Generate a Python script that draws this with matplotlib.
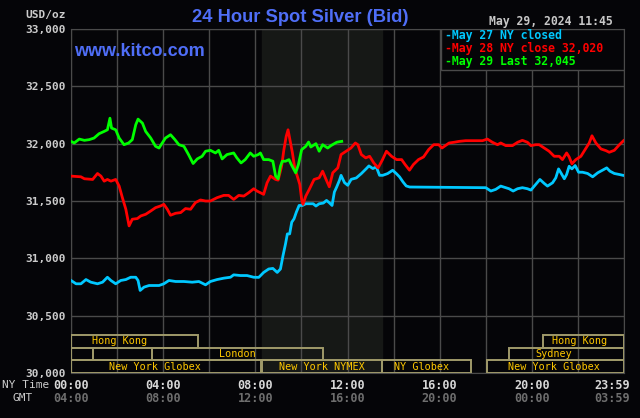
import matplotlib
matplotlib.use("Agg")
import matplotlib.pyplot as plt
from matplotlib.patches import Rectangle
from matplotlib.transforms import blended_transform_factory

# --- data (hours NY time, USD/oz) ---
may29_hours = [0, 0.14, 0.36, 0.58, 0.79, 1.0, 1.22, 1.44, 1.58, 1.69, 1.76, 1.94, 2.09, 2.3,
               2.5, 2.66, 2.81, 2.91, 3.1, 3.24, 3.46, 3.67, 3.82, 3.96, 4.1, 4.32, 4.51, 4.68,
               4.9, 5.1, 5.3, 5.48, 5.69, 5.84, 6.05, 6.27, 6.41, 6.56, 6.77, 7.06, 7.2, 7.38,
               7.56, 7.78, 7.93, 8.13, 8.22, 8.36, 8.58, 8.76, 8.88, 8.99, 9.09, 9.17, 9.31,
               9.46, 9.56, 9.75, 9.87, 10.01, 10.19, 10.31, 10.41, 10.63, 10.77, 10.92, 11.14,
               11.28, 11.53, 11.65, 11.75]
may29_price = [32020, 32006, 32040, 32029, 32035, 32049, 32087, 32107, 32121, 32222, 32136,
               32121, 32049, 31991, 32006, 32035, 32165, 32214, 32179, 32107, 32049, 31977,
               31962, 32006, 32049, 32078, 32035, 31991, 31977, 31905, 31827, 31867, 31890,
               31934, 31942, 31919, 31942, 31867, 31905, 31919, 31876, 31832, 31861, 31919,
               31890, 31905, 31919, 31861, 31861, 31847, 31717, 31694, 31803, 31847, 31847,
               31861, 31818, 31746, 31818, 31948, 31977, 32014, 31971, 32000, 31934, 31991,
               31962, 31983, 32012, 32017, 32020]

may28_hours = [0, 0.43, 0.58, 0.94, 1.15, 1.3, 1.44, 1.58, 1.73, 1.94, 2.09, 2.23, 2.38, 2.52,
               2.66, 2.88, 3.03, 3.24, 3.46, 3.67, 3.89, 4.03, 4.18, 4.32, 4.54, 4.76, 4.97,
               5.19, 5.4, 5.62, 5.84, 6.05, 6.34, 6.63, 6.84, 7.06, 7.28, 7.5, 7.71, 7.93,
               8.07, 8.36, 8.51, 8.66, 8.88, 8.99, 9.14, 9.24, 9.34, 9.42, 9.5, 9.61, 9.72,
               9.82, 9.93, 10.01, 10.07, 10.19, 10.34, 10.55, 10.77, 10.92, 11.07, 11.21,
               11.36, 11.58, 11.72, 11.94, 12.15, 12.34, 12.45, 12.6, 12.79, 12.96, 13.14,
               13.33, 13.52, 13.69, 13.91, 14.13, 14.35, 14.5, 14.69, 14.86, 15.08, 15.3,
               15.52, 15.74, 15.96, 16.1, 16.41, 16.62, 16.84, 17.13, 17.42, 17.86, 18.07,
               18.29, 18.51, 18.65, 18.87, 19.16, 19.38, 19.59, 19.81, 19.96, 20.17, 20.32,
               20.54, 20.75, 20.97, 21.19, 21.33, 21.51, 21.62, 21.74, 21.91, 22.13, 22.35,
               22.49, 22.61, 22.78, 23.0, 23.22, 23.36, 23.58, 23.8, 23.98]
may28_price = [31717, 31711, 31694, 31688, 31740, 31717, 31673, 31688, 31673, 31688, 31630,
               31529, 31428, 31283, 31341, 31347, 31370, 31384, 31413, 31442, 31457, 31471,
               31428, 31376, 31393, 31399, 31434, 31428, 31486, 31509, 31500, 31500, 31529,
               31549, 31549, 31514, 31549, 31543, 31572, 31607, 31587, 31558, 31659, 31717,
               31688, 31682, 31803, 31948, 32064, 32121, 32035, 31919, 31775, 31717, 31644,
               31514, 31471, 31543, 31601, 31688, 31702, 31760, 31688, 31624, 31746, 31789,
               31905, 31934, 31962, 32006, 31991, 31905, 31876, 31890, 31832, 31789, 31861,
               31934, 31890, 31861, 31861, 31818, 31769, 31818, 31861, 31884, 31948, 31991,
               31991, 31962, 32006, 32012, 32020, 32026, 32026, 32026, 32040, 32012, 31991,
               32006, 31983, 31983, 32012, 32029, 32012, 31983, 31991, 31991, 31962, 31934,
               31890, 31890, 31861, 31919, 31884, 31824, 31861, 31890, 31962, 32006, 32069,
               32006, 31954, 31939, 31925, 31942, 31991, 32026]

may27_hours = [0, 0.22, 0.43, 0.65, 0.86, 1.15, 1.37, 1.58, 1.73, 1.94, 2.16, 2.38, 2.59,
               2.81, 2.91, 3.0, 3.17, 3.39, 3.6, 3.82, 4.03, 4.25, 4.54, 4.9, 5.26, 5.55,
               5.84, 6.05, 6.34, 6.63, 6.92, 7.06, 7.35, 7.64, 7.93, 8.15, 8.36, 8.58, 8.76,
               8.95, 9.09, 9.2, 9.31, 9.39, 9.49, 9.58, 9.68, 9.78, 9.9, 10.04, 10.19, 10.34,
               10.51, 10.63, 10.77, 10.95, 11.09, 11.21, 11.33, 11.43, 11.53, 11.65, 11.72,
               11.87, 12.01, 12.16, 12.38, 12.6, 12.82, 12.93, 13.1, 13.25, 13.39, 13.53,
               13.74, 13.96, 14.12, 14.26, 14.41, 14.55, 14.7, 18.0, 18.07, 18.22, 18.43,
               18.65, 18.87, 19.01, 19.19, 19.38, 19.59, 19.81, 19.96, 20.17, 20.35, 20.54,
               20.68, 20.9, 21.04, 21.16, 21.26, 21.41, 21.51, 21.62, 21.74, 21.88, 22.03,
               22.2, 22.42, 22.64, 22.86, 23.07, 23.25, 23.39, 23.58, 23.8, 23.98]
may27_price = [30807, 30778, 30778, 30815, 30792, 30778, 30792, 30835, 30807, 30778, 30807,
               30815, 30835, 30835, 30807, 30720, 30749, 30763, 30763, 30763, 30778, 30807,
               30798, 30798, 30792, 30798, 30769, 30798, 30815, 30827, 30835, 30856, 30850,
               30850, 30835, 30834, 30877, 30907, 30912, 30877, 30907, 31023, 31126, 31213,
               31213, 31315, 31345, 31403, 31461, 31461, 31476, 31476, 31476, 31456, 31476,
               31482, 31505, 31485, 31461, 31578, 31622, 31680, 31724, 31660, 31637, 31689,
               31701, 31739, 31783, 31806, 31783, 31797, 31724, 31724, 31739, 31768, 31739,
               31710, 31666, 31631, 31622, 31616, 31607, 31587, 31601, 31630, 31616, 31607,
               31587, 31607, 31616, 31607, 31595, 31645, 31688, 31653, 31630, 31659, 31702,
               31780, 31746, 31694, 31731, 31803, 31780, 31809, 31751, 31751, 31740, 31711,
               31746, 31769, 31789, 31760, 31740, 31731, 31723]

y_ticks = [30000, 30500, 31000, 31500, 32000, 32500, 33000]
ny_ticks = [0, 4, 8, 12, 16, 20]
ny_labels = ["00:00", "04:00", "08:00", "12:00", "16:00", "20:00"]
gmt_labels = ["04:00", "08:00", "12:00", "16:00", "20:00", "00:00"]

legend_labels = ["-May 27 NY closed", "-May 28 NY close 32,020", "-May 29 Last 32,045"]

# market sessions: (row, start hour, end hour, label, label centre hour)
sessions = [
    (2, 0.0, 5.5, "Hong Kong", 2.1),
    (2, 20.5, 24.0, "Hong Kong", 22.05),
    (1, 0.0, 0.95, "", 0),
    (1, 0.95, 3.5, "", 0),
    (1, 3.5, 10.94, "London", 7.2),
    (1, 19.0, 24.0, "Sydney", 20.96),
    (0, 0.0, 8.25, "New York Globex", 3.65),
    (0, 8.3, 13.5, "New York NYMEX", 10.9),
    (0, 13.5, 17.37, "NY Globex", 15.2),
    (0, 18.07, 24.0, "New York Globex", 20.98),
]

BG = "#050508"
GRID = "#4a4a4a"
MONO = "DejaVu Sans Mono"

fig = plt.figure(figsize=(6.4, 4.18), dpi=100, facecolor=BG)
ax = fig.add_axes([71 / 640, 1 - 373 / 418, 553 / 640, 344 / 418])
ax.set_facecolor(BG)

ax.set_xlim(0, 24)
ax.set_ylim(30000, 33000)

# NYMEX open shading
ax.axvspan(8.3, 13.5, color="#161816", zorder=0)

ax.set_xticks(range(0, 25, 2))
ax.set_yticks(y_ticks)
ax.grid(True, color=GRID, linewidth=1)
ax.set_axisbelow(True)
ax.tick_params(length=0, labelbottom=False)
ax.set_yticklabels([f"{v:,}" for v in y_ticks], family=MONO, fontsize=8,
                   color="#cccccc", fontweight="bold")
ax.tick_params(axis="y", pad=4)
for s in ax.spines.values():
    s.set_color(GRID)

ax.plot(may27_hours, may27_price, color="#00c8ff", lw=2.0, zorder=3)
ax.plot(may28_hours, may28_price, color="#ff0000", lw=2.0, zorder=4)
ax.plot(may29_hours, may29_price, color="#00ff00", lw=2.0, zorder=5)

# session bars
tr = blended_transform_factory(ax.transData, ax.transAxes)
row_h = 0.0368
for row, x0, x1, label, xc in sessions:
    ax.add_patch(Rectangle((x0, row * row_h), x1 - x0, row_h, transform=tr,
                           fill=False, edgecolor="#a09a6a", lw=1.4, zorder=6))
    if label:
        ax.text(xc, row * row_h + row_h / 2, label, transform=tr, ha="center",
                va="center", family=MONO, fontsize=7.3, color="#ffc800", zorder=7)

# legend box
ax.add_patch(Rectangle((0.669, 0.881), 0.331, 0.119, transform=ax.transAxes,
                       facecolor=BG, edgecolor=GRID, lw=1, zorder=8))
for i, (txt, col) in enumerate(zip(legend_labels, ["#00c8ff", "#ff0000", "#00ff00"])):
    ax.text(0.676, 0.980 - i * 0.037, txt, transform=ax.transAxes, ha="left",
            va="center", family=MONO, fontsize=8.3, fontweight="bold", color=col, zorder=9)

# x labels (two rows)
for h, ny, gmt in zip(ny_ticks, ny_labels, gmt_labels):
    ax.text(h, -0.035, ny, transform=tr, ha="center", va="center", family=MONO,
            fontsize=8.5, fontweight="bold", color="#d8d8d8")
    ax.text(h, -0.073, gmt, transform=tr, ha="center", va="center", family=MONO,
            fontsize=8.5, fontweight="bold", color="#6e6e6e")
ax.text(23.48, -0.035, "23:59", transform=tr, ha="center", va="center", family=MONO,
        fontsize=8.5, fontweight="bold", color="#d8d8d8")
ax.text(23.48, -0.073, "03:59", transform=tr, ha="center", va="center", family=MONO,
        fontsize=8.5, fontweight="bold", color="#6e6e6e")

fig.text(49 / 640, 1 - 385 / 418, "NY Time", ha="right", va="center", family=MONO,
         fontsize=8, color="#cccccc")
fig.text(33 / 640, 1 - 398 / 418, "GMT", ha="right", va="center", family=MONO,
         fontsize=8, color="#cccccc")
fig.text(66 / 640, 1 - 15 / 418, "USD/oz", ha="right", va="center", family=MONO,
         fontsize=8, fontweight="bold", color="#cccccc")

fig.text(300 / 640, 1 - 17 / 418, "24 Hour Spot Silver (Bid)", ha="center", va="center",
         family="Liberation Sans", fontsize=13.2, fontweight="bold", color="#4f6ef7")
fig.text(74 / 640, 1 - 51 / 418, "www.kitco.com", ha="left", va="center",
         family="Liberation Sans", fontsize=13, fontweight="bold", color="#4f6ef7")
fig.text(613 / 640, 1 - 22 / 418, "May 29, 2024 11:45", ha="right", va="center",
         family=MONO, fontsize=8.3, fontweight="bold", color="#c8c8c8")

fig.savefig("out.png", dpi=100, facecolor=BG)
